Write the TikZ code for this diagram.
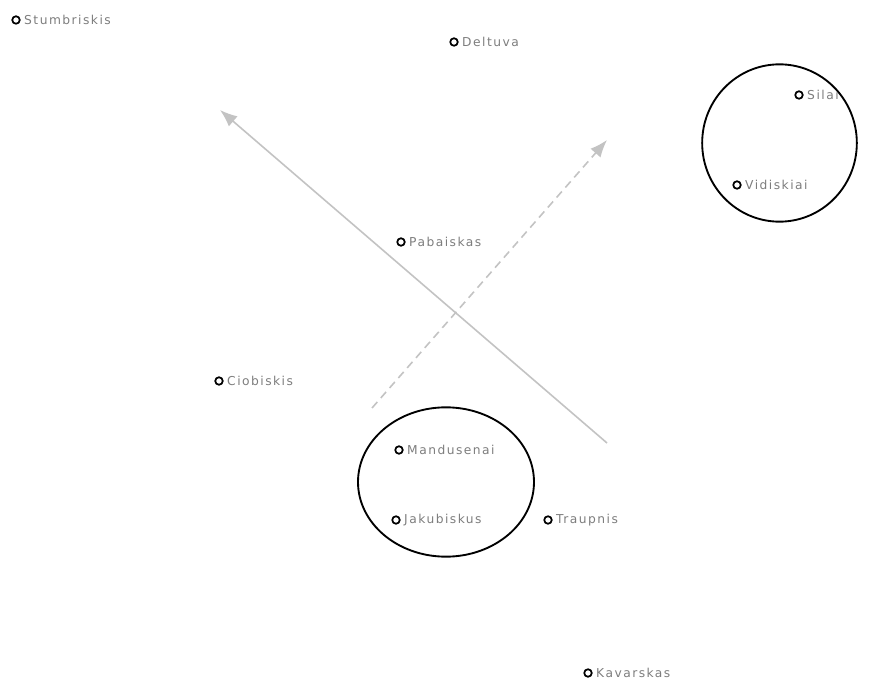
\documentclass[tikz,border=0pt]{standalone}
\usepackage{fontspec}
\newfontfamily\lblfont[LetterSpace=12]{DejaVu Sans}
\usetikzlibrary{arrows.meta, shapes.geometric}
\definecolor{lblgray}{RGB}{125,125,125}
\definecolor{arrgray}{RGB}{195,195,195}
\begin{document}
\begin{tikzpicture}[x = 0.75pt, y = -0.75pt,
        place/.style = {circle, draw = black, line width = 1.3pt, inner sep = 2pt,
            label = {[lblgray, font = \lblfont\fontsize{9.2}{10}\selectfont, inner sep = 1pt, xshift = 1.5pt]right:#1}},
        zone/.style = {ellipse, draw = black, line width = 1.4pt, inner sep = 0pt},
        move/.style = {arrgray, line width = 1.2pt, -{Latex[length = 13pt, width = 10pt]}}]
        \useasboundingbox (0, 0) rectangle (872, 681);
        \node[place = Stumbriskis] (stu) at (16, 20) {};
        \node[place = Deltuva] (del) at (454, 42) {};
        \node[place = Silai] (sil) at (799, 95) {};
        \node[place = Vidiskiai] (vid) at (737, 185) {};
        \node[place = Pabaiskas] (pab) at (401, 242) {};
        \node[place = Ciobiskis] (cio) at (219, 381) {};
        \node[place = Mandusenai] (man) at (399, 450) {};
        \node[place = Jakubiskus] (jak) at (396, 520) {};
        \node[place = Traupnis] (tra) at (548, 520) {};
        \node[place = Kavarskas] (kav) at (588, 673) {};
        \node[zone, minimum width = 116pt, minimum height = 118pt] (north) at (779.5, 143) {};
        \node[zone, minimum width = 132pt, minimum height = 112pt] (south) at (446, 482) {};
        \coordinate (s1) at (607, 443);
        \coordinate (e1) at (220, 110);
        \coordinate (s2) at (372, 408);
        \coordinate (e2) at (607, 140);
        \draw[move] (s1) -- (e1);
        \draw[move, dashed, dash pattern = on 6pt off 4pt] (s2) -- (e2);
    \end{tikzpicture}
\end{document}
